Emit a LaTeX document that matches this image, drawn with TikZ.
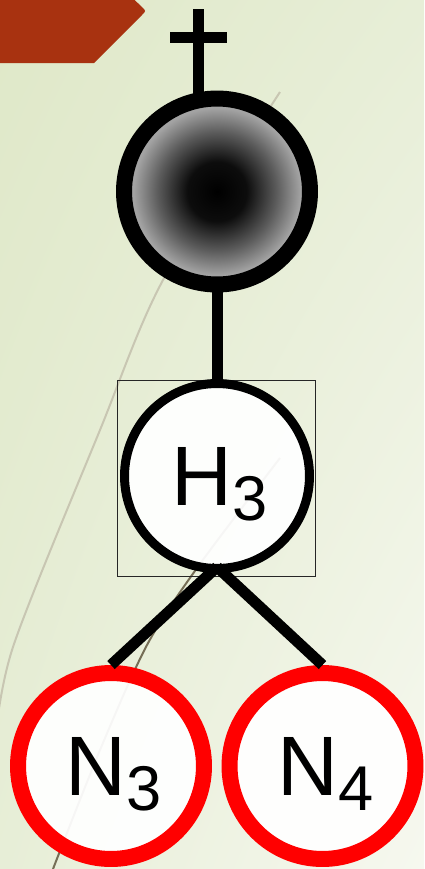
\documentclass[tikz,border=0pt]{standalone}
\usepackage{fontspec}
\setmainfont{Liberation Sans}
\usepackage{tikz}
\usetikzlibrary{calc, shadings}
\definecolor{rust}{RGB}{168,50,16}
\definecolor{bgA}{RGB}{223,232,200}
\definecolor{bgB}{RGB}{231,238,215}
\definecolor{bgC}{RGB}{246,248,239}
\definecolor{faint}{RGB}{200,198,178}
\definecolor{olive}{RGB}{118,110,86}
\pgfdeclareradialshading{ballshade}{\pgfpoint{0bp}{0bp}}{color(0bp)=(black); color(8bp)=(black!95); color(16bp)=(black!64); color(22.5bp)=(black!36); color(50bp)=(black!34)}
\newcommand{\sublbl}[2]{\hspace*{0.12cm}#1\raisebox{-8.7pt}{\fontsize{36}{40}\selectfont #2}}

\begin{document}
\begin{tikzpicture}[
    x=0.02cm, y=-0.02cm,
    bond/.style={line width=0.22cm},
    atom/.style={circle, inner sep=0pt, fill=white, fill opacity=0.94, text opacity=1,
                 text depth=0pt, font=\fontsize{48}{56}\selectfont},
    hnode/.style={atom, draw=black, line width=0.18cm, minimum size=3.7cm},
    nnode/.style={atom, draw=red, line width=0.32cm, minimum size=3.72cm},
]
\useasboundingbox (0,0) rectangle (424,869);
\shade[upper left=bgA, upper right=bgB, lower left=bgB, lower right=bgC] (0,0) rectangle (424,869);
\draw[faint, line width=0.04cm] plot[smooth] coordinates {(280,92) (163,280) (100,430) (13,647) (-6,750)};
\draw[olive, line width=0.04cm] plot[smooth] coordinates {(280,458) (197,568) (147,645) (100,750) (53,869)};
\fill[rust] (-10,-10) -- (124,-10) -- (142,7) .. controls (146,11) .. (142,15) -- (94,63) -- (-10,63) -- cycle;

\node[circle, draw, shade, shading=ballshade, line width=0.32cm, minimum size=3.72cm, inner sep=0pt] (ball) at (217,191.5) {};
\node[draw=black!85, line width=0.02cm, minimum width=3.98cm, minimum height=3.94cm, inner sep=0pt] (h3box) at (216.5,478.5) {};
\node[hnode] (h3) at (217,476) {\sublbl{H}{3}};
\node[nnode] (n3) at (111,766) {\sublbl{N}{3}};
\node[nnode] (n4) at (322.5,766) {\sublbl{N}{4}};

\coordinate (crosstop) at (198,9);
\coordinate (barl) at (170,37.5);
\coordinate (barr) at (227,37.5);
\draw[bond] (crosstop) -- ($(crosstop |- ball.north)+(0,4)$);
\draw[bond] (barl) -- (barr);
\draw[bond] (ball.south) -- (h3.north);
\draw[bond] ($(h3.south)+(0,-6)$) -- (n3.north);
\draw[bond] ($(h3.south)+(0,-6)$) -- (n4.north);
\end{tikzpicture}
\end{document}
